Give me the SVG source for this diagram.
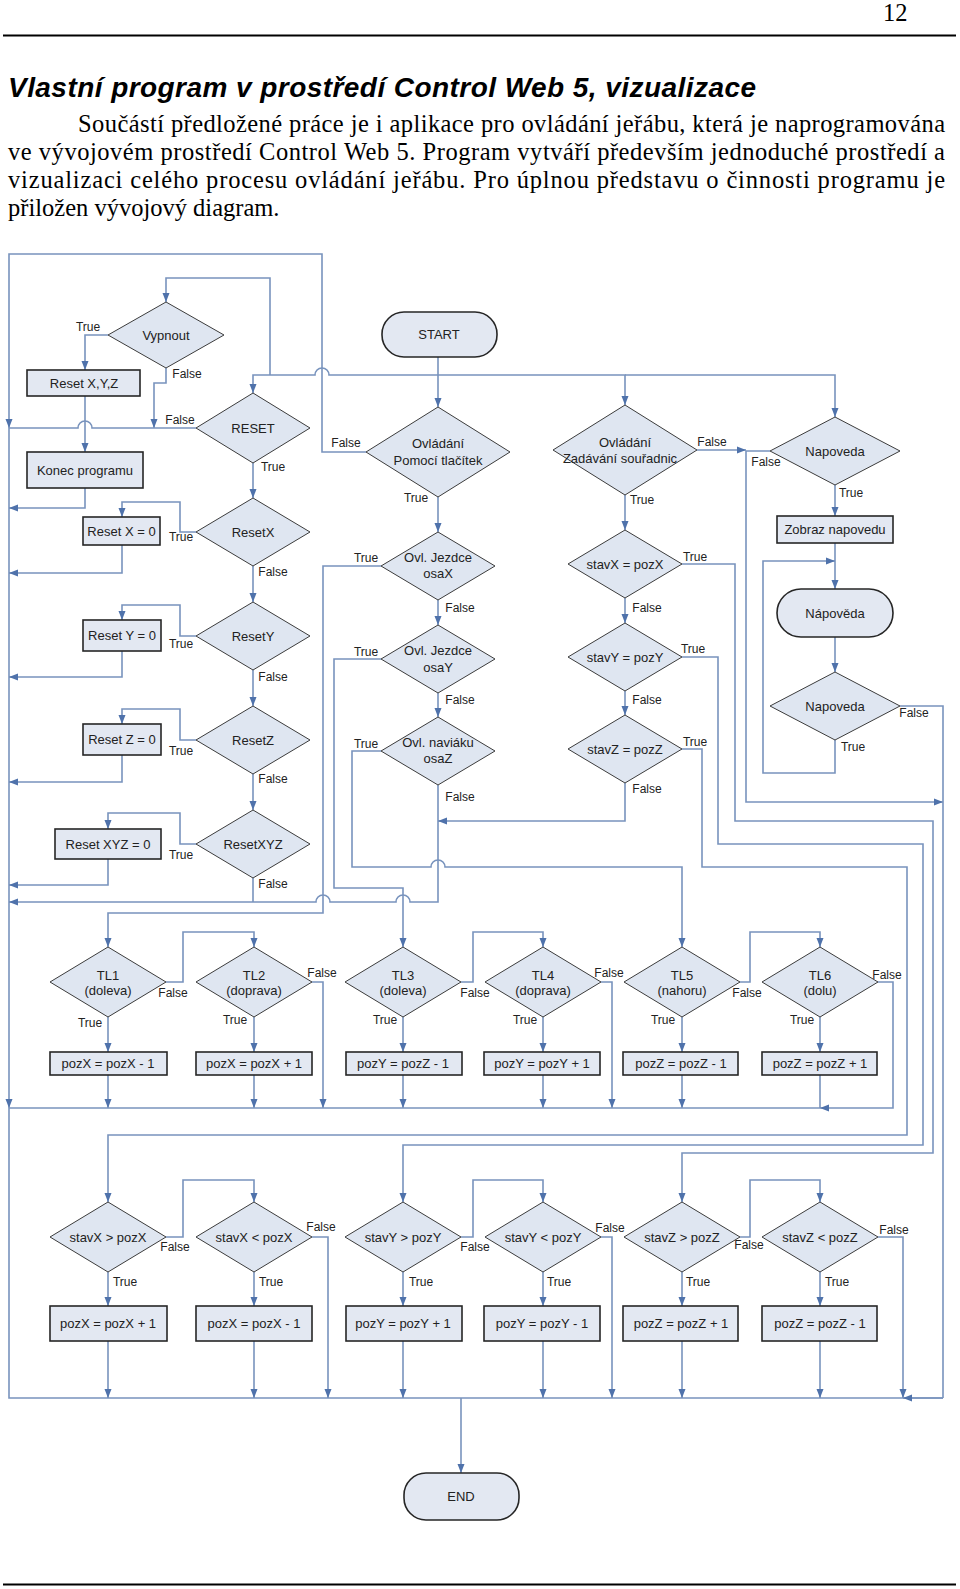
<svg xmlns="http://www.w3.org/2000/svg" width="960" height="1589" viewBox="0 0 960 1589">
<style>
.c{fill:none;stroke:#7893bd;stroke-width:1.6}
.a{marker-end:url(#ah)}
.d{fill:#dfe6f1;stroke:#3c3c3c;stroke-width:1}
.b{fill:#e3e8f2;stroke:#262626;stroke-width:1.6}
.n{font-family:"Liberation Sans",Arial,sans-serif;font-size:13px;fill:#222;text-anchor:middle}
.l{font-family:"Liberation Sans",Arial,sans-serif;font-size:12px;fill:#222;text-anchor:middle}
.s{font-family:"Liberation Serif","Times New Roman",serif;font-size:24.5px;fill:#000}
</style>
<defs>
<marker id="ah" markerWidth="9" markerHeight="8" refX="9" refY="4" orient="auto" markerUnits="userSpaceOnUse"><path d="M0,0.5 L9,4 L0,7.5 z" fill="#4f72ab"/></marker>
</defs>
<rect width="960" height="1589" fill="#fff"/>
<g id="header">
<text class="s" x="883" y="21">12</text>
<line x1="3" y1="35.5" x2="956" y2="35.5" stroke="#000" stroke-width="2"/>
<text x="8" y="97" font-family="'Liberation Sans',Arial,sans-serif" font-size="28" font-weight="bold" font-style="italic" textLength="748">Vlastní program v prostředí Control Web 5, vizualizace</text>
<text class="s" x="78" y="132" textLength="867">Součástí předložené práce je i aplikace pro ovládání jeřábu, která je naprogramována</text>
<text class="s" x="8" y="160" textLength="937">ve vývojovém prostředí Control Web 5. Program vytváří především jednoduché prostředí a</text>
<text class="s" x="8" y="188" textLength="937">vizualizaci celého procesu ovládání jeřábu. Pro úplnou představu o činnosti programu je</text>
<text class="s" x="8" y="216">přiložen vývojový diagram.</text>
<line x1="3" y1="1584.5" x2="956" y2="1584.5" stroke="#000" stroke-width="2"/>
</g>
<g id="connectors">
<path class="c a" d="M438,357 V407"/>
<path class="c a" d="M438,375 H329 A7,7 0 0 0 315,375 H253 V393"/>
<path class="c a" d="M270,375 V278 H166 V302"/>
<path class="c a" d="M438,375 H625 V405"/>
<path class="c a" d="M625,375 H835 V417"/>
<path class="c a" d="M366,452 H322 V254 H9 V428"/>
<path class="c a" d="M9,428 V1108"/>
<path class="c" d="M9,1108 V1398 H943"/>
<path class="c a" d="M461,1398 V1473"/>
<path class="c a" d="M108,335 H85 V370"/>
<path class="c a" d="M85,396 V452"/>
<path class="c a" d="M85,488 V508 H9"/>
<path class="c a" d="M166,368 V383 H154 V428"/>
<path class="c" d="M196,428 H92 A7,7 0 0 0 78,428 H9"/>
<path class="c a" d="M253,463 V498"/>
<path class="c a" d="M196,532 H180 V502 H122 V517"/>
<path class="c a" d="M122,545 V573 H9"/>
<path class="c a" d="M253,566 V602"/>
<path class="c a" d="M196,636 H180 V605 H122 V620"/>
<path class="c a" d="M122,651 V677 H9"/>
<path class="c a" d="M253,670 V706"/>
<path class="c a" d="M196,740 H180 V709 H122 V724"/>
<path class="c a" d="M122,755 V782 H9"/>
<path class="c a" d="M253,774 V810"/>
<path class="c a" d="M196,844 H180 V813 H108 V829"/>
<path class="c a" d="M108,859 V885 H9"/>
<path class="c" d="M253,878 V902"/>
<path class="c a" d="M438,785 V902 H410 A7,7 0 0 0 396,902 H330 A7,7 0 0 0 316,902 H9"/>
<path class="c a" d="M625,783 V821 H438"/>
<path class="c a" d="M438,497 V532"/>
<path class="c a" d="M438,600 V625"/>
<path class="c a" d="M438,693 V717"/>
<path class="c a" d="M381,566 H323 V913 H108 V947"/>
<path class="c a" d="M381,659 H334 V888 H403 V947"/>
<path class="c a" d="M381,751 H352 V867 H431 A7,7 0 0 1 445,867 H682 V947"/>
<path class="c a" d="M625,495 V530"/>
<path class="c a" d="M625,598 V623"/>
<path class="c a" d="M625,691 V715"/>
<path class="c a" d="M682,564 H735 V821 H933 V1153 H682 V1202"/>
<path class="c a" d="M682,657 H718 V844 H923 V1145 H403 V1202"/>
<path class="c a" d="M682,749 H702 V867 H907 V1135 H108 V1202"/>
<path class="c a" d="M697,450 H746"/>
<path class="c a" d="M770,451 H746 V802 H943"/>
<path class="c a" d="M835,485 V516"/>
<path class="c a" d="M835,543 V589"/>
<path class="c a" d="M835,637 V672"/>
<path class="c a" d="M835,740 V773 H763 V561 H835"/>
<path class="c" d="M900,706 H943 V1398"/>
<path class="c a" d="M943,1398 H903"/>
<path class="c a" d="M108,1017 V1052"/><path class="c a" d="M108,1075 V1108"/>
<path class="c a" d="M254,1017 V1052"/><path class="c a" d="M254,1075 V1108"/>
<path class="c a" d="M403,1017 V1052"/><path class="c a" d="M403,1075 V1108"/>
<path class="c a" d="M543,1017 V1052"/><path class="c a" d="M543,1075 V1108"/>
<path class="c a" d="M682,1017 V1052"/><path class="c a" d="M682,1075 V1108"/>
<path class="c a" d="M820,1017 V1052"/><path class="c" d="M820,1075 V1108"/>
<path class="c a" d="M166,982 H183 V932 H254 V947"/>
<path class="c a" d="M312,982 H323 V1108"/>
<path class="c a" d="M461,982 H473 V932 H543 V947"/>
<path class="c a" d="M601,982 H612 V1108"/>
<path class="c a" d="M740,982 H750 V932 H820 V947"/>
<path class="c a" d="M878,982 H893 V1108 H820"/>
<path class="c" d="M820,1108 H9"/>
<path class="c a" d="M108,1272 V1306"/><path class="c a" d="M108,1341 V1398"/>
<path class="c a" d="M254,1272 V1306"/><path class="c a" d="M254,1341 V1398"/>
<path class="c a" d="M403,1272 V1306"/><path class="c a" d="M403,1341 V1398"/>
<path class="c a" d="M543,1272 V1306"/><path class="c a" d="M543,1341 V1398"/>
<path class="c a" d="M682,1272 V1306"/><path class="c a" d="M682,1341 V1398"/>
<path class="c a" d="M820,1272 V1306"/><path class="c a" d="M820,1341 V1398"/>
<path class="c a" d="M166,1237 H183 V1180 H254 V1202"/>
<path class="c a" d="M312,1237 H328 V1398"/>
<path class="c a" d="M461,1237 H473 V1180 H543 V1202"/>
<path class="c a" d="M601,1237 H612 V1398"/>
<path class="c a" d="M740,1237 H750 V1180 H820 V1202"/>
<path class="c a" d="M878,1237 H903 V1398"/>
</g>
<g id="labels">
<text class="l" x="88" y="331">True</text>
<text class="l" x="187" y="378">False</text>
<text class="l" x="180" y="424">False</text>
<text class="l" x="273" y="471">True</text>
<text class="l" x="181" y="541">True</text>
<text class="l" x="273" y="576">False</text>
<text class="l" x="181" y="648">True</text>
<text class="l" x="273" y="681">False</text>
<text class="l" x="181" y="755">True</text>
<text class="l" x="273" y="783">False</text>
<text class="l" x="181" y="859">True</text>
<text class="l" x="273" y="888">False</text>
<text class="l" x="346" y="447">False</text>
<text class="l" x="416" y="502">True</text>
<text class="l" x="366" y="562">True</text>
<text class="l" x="460" y="612">False</text>
<text class="l" x="366" y="656">True</text>
<text class="l" x="460" y="704">False</text>
<text class="l" x="366" y="748">True</text>
<text class="l" x="460" y="801">False</text>
<text class="l" x="712" y="446">False</text>
<text class="l" x="642" y="504">True</text>
<text class="l" x="695" y="561">True</text>
<text class="l" x="647" y="612">False</text>
<text class="l" x="693" y="653">True</text>
<text class="l" x="647" y="704">False</text>
<text class="l" x="695" y="746">True</text>
<text class="l" x="647" y="793">False</text>
<text class="l" x="766" y="466">False</text>
<text class="l" x="851" y="497">True</text>
<text class="l" x="853" y="751">True</text>
<text class="l" x="914" y="717">False</text>
<text class="l" x="173" y="997">False</text>
<text class="l" x="90" y="1027">True</text>
<text class="l" x="322" y="977">False</text>
<text class="l" x="235" y="1024">True</text>
<text class="l" x="475" y="997">False</text>
<text class="l" x="385" y="1024">True</text>
<text class="l" x="609" y="977">False</text>
<text class="l" x="525" y="1024">True</text>
<text class="l" x="747" y="997">False</text>
<text class="l" x="663" y="1024">True</text>
<text class="l" x="887" y="979">False</text>
<text class="l" x="802" y="1024">True</text>
<text class="l" x="175" y="1251">False</text>
<text class="l" x="125" y="1286">True</text>
<text class="l" x="321" y="1231">False</text>
<text class="l" x="271" y="1286">True</text>
<text class="l" x="475" y="1251">False</text>
<text class="l" x="421" y="1286">True</text>
<text class="l" x="610" y="1232">False</text>
<text class="l" x="559" y="1286">True</text>
<text class="l" x="749" y="1249">False</text>
<text class="l" x="698" y="1286">True</text>
<text class="l" x="894" y="1234">False</text>
<text class="l" x="837" y="1286">True</text>
</g>
<g id="start"><rect class="b" x="382" y="312" width="115" height="45" rx="22"/><text class="n" x="439" y="339">START</text></g>
<g id="vypnout"><polygon class="d" points="166,302 224,335 166,368 108,335"/><text class="n" x="166" y="339.5">Vypnout</text></g>
<g id="resetxyz-box"><rect class="b" x="27" y="370" width="113" height="26"/><text class="n" x="84" y="387.5">Reset X,Y,Z</text></g>
<g id="konec"><rect class="b" x="27" y="452" width="116" height="36"/><text class="n" x="85" y="474.5">Konec programu</text></g>
<g id="reset"><polygon class="d" points="253,393 310,428 253,463 196,428"/><text class="n" x="253" y="433" font-size="14">RESET</text></g>
<g id="resetx"><polygon class="d" points="253,498 310,532 253,566 196,532"/><text class="n" x="253" y="536.5">ResetX</text></g>
<g id="resetx0"><rect class="b" x="83" y="517" width="77" height="28"/><text class="n" x="121.5" y="535.5">Reset X = 0</text></g>
<g id="resety"><polygon class="d" points="253,602 310,636 253,670 196,636"/><text class="n" x="253" y="640.5">ResetY</text></g>
<g id="resety0"><rect class="b" x="83" y="620" width="78" height="31"/><text class="n" x="122" y="640">Reset Y = 0</text></g>
<g id="resetz"><polygon class="d" points="253,706 310,740 253,774 196,740"/><text class="n" x="253" y="744.5">ResetZ</text></g>
<g id="resetz0"><rect class="b" x="83" y="724" width="78" height="31"/><text class="n" x="122" y="744">Reset Z = 0</text></g>
<g id="resetxyz"><polygon class="d" points="253,810 310,844 253,878 196,844"/><text class="n" x="253" y="848.5">ResetXYZ</text></g>
<g id="resetxyz0"><rect class="b" x="55" y="829" width="106" height="30"/><text class="n" x="108" y="848.5">Reset XYZ = 0</text></g>
<g id="ovl-tlacitka"><polygon class="d" points="438,407 510,452 438,497 366,452"/><text class="n" x="438" y="447.5">Ovládání</text><text class="n" x="438" y="464.5">Pomocí tlačítek</text></g>
<g id="osax"><polygon class="d" points="438,532 495,566 438,600 381,566"/><text class="n" x="438" y="561.5">Ovl. Jezdce</text><text class="n" x="438" y="577.5">osaX</text></g>
<g id="osay"><polygon class="d" points="438,625 495,659 438,693 381,659"/><text class="n" x="438" y="654.5">Ovl. Jezdce</text><text class="n" x="438" y="671.5">osaY</text></g>
<g id="osaz"><polygon class="d" points="438,717 495,751 438,785 381,751"/><text class="n" x="438" y="746.5">Ovl. naviáku</text><text class="n" x="438" y="762.5">osaZ</text></g>
<g id="ovl-souradnice"><polygon class="d" points="625,405 697,450 625,495 553,450"/><text class="n" x="625" y="446.5">Ovládání</text><text class="n" x="620" y="462.5">Zadávání souřadnic</text></g>
<g id="stavx-eq"><polygon class="d" points="625,530 682,564 625,598 568,564"/><text class="n" x="625" y="568.5">stavX = pozX</text></g>
<g id="stavy-eq"><polygon class="d" points="625,623 682,657 625,691 568,657"/><text class="n" x="625" y="661.5">stavY = pozY</text></g>
<g id="stavz-eq"><polygon class="d" points="625,715 682,749 625,783 568,749"/><text class="n" x="625" y="753.5">stavZ = pozZ</text></g>
<g id="napoveda1"><polygon class="d" points="835,417 900,451 835,485 770,451"/><text class="n" x="835" y="455.5">Napoveda</text></g>
<g id="zobraz"><rect class="b" x="777" y="516" width="116" height="27"/><text class="n" x="835" y="534">Zobraz napovedu</text></g>
<g id="napoveda-term"><rect class="b" x="777" y="589" width="116" height="48" rx="24"/><text class="n" x="835" y="617.5">Nápověda</text></g>
<g id="napoveda2"><polygon class="d" points="835,672 900,706 835,740 770,706"/><text class="n" x="835" y="710.5">Napoveda</text></g>
<g id="tl1"><polygon class="d" points="108,947 166,982 108,1017 50,982"/><text class="n" x="108" y="979.5">TL1</text><text class="n" x="108" y="994.5">(doleva)</text></g>
<g id="tl2"><polygon class="d" points="254,947 312,982 254,1017 196,982"/><text class="n" x="254" y="979.5">TL2</text><text class="n" x="254" y="994.5">(doprava)</text></g>
<g id="tl3"><polygon class="d" points="403,947 461,982 403,1017 345,982"/><text class="n" x="403" y="979.5">TL3</text><text class="n" x="403" y="994.5">(doleva)</text></g>
<g id="tl4"><polygon class="d" points="543,947 601,982 543,1017 485,982"/><text class="n" x="543" y="979.5">TL4</text><text class="n" x="543" y="994.5">(doprava)</text></g>
<g id="tl5"><polygon class="d" points="682,947 740,982 682,1017 624,982"/><text class="n" x="682" y="979.5">TL5</text><text class="n" x="682" y="994.5">(nahoru)</text></g>
<g id="tl6"><polygon class="d" points="820,947 878,982 820,1017 762,982"/><text class="n" x="820" y="979.5">TL6</text><text class="n" x="820" y="994.5">(dolu)</text></g>
<g id="tl1-box"><rect class="b" x="50" y="1052" width="117" height="23"/><text class="n" x="108" y="1068">pozX = pozX - 1</text></g>
<g id="tl2-box"><rect class="b" x="196" y="1052" width="116" height="23"/><text class="n" x="254" y="1068">pozX = pozX + 1</text></g>
<g id="tl3-box"><rect class="b" x="346" y="1052" width="116" height="23"/><text class="n" x="403" y="1068">pozY = pozZ - 1</text></g>
<g id="tl4-box"><rect class="b" x="484" y="1052" width="116" height="23"/><text class="n" x="542" y="1068">pozY = pozY + 1</text></g>
<g id="tl5-box"><rect class="b" x="623" y="1052" width="115" height="23"/><text class="n" x="681" y="1068">pozZ = pozZ - 1</text></g>
<g id="tl6-box"><rect class="b" x="762" y="1052" width="115" height="23"/><text class="n" x="820" y="1068">pozZ = pozZ + 1</text></g>
<g id="sx-gt"><polygon class="d" points="108,1202 166,1237 108,1272 50,1237"/><text class="n" x="108" y="1241.5">stavX &gt; pozX</text></g>
<g id="sx-lt"><polygon class="d" points="254,1202 312,1237 254,1272 196,1237"/><text class="n" x="254" y="1241.5">stavX &lt; pozX</text></g>
<g id="sy-gt"><polygon class="d" points="403,1202 461,1237 403,1272 345,1237"/><text class="n" x="403" y="1241.5">stavY &gt; pozY</text></g>
<g id="sy-lt"><polygon class="d" points="543,1202 601,1237 543,1272 485,1237"/><text class="n" x="543" y="1241.5">stavY &lt; pozY</text></g>
<g id="sz-gt"><polygon class="d" points="682,1202 740,1237 682,1272 624,1237"/><text class="n" x="682" y="1241.5">stavZ &gt; pozZ</text></g>
<g id="sz-lt"><polygon class="d" points="820,1202 878,1237 820,1272 762,1237"/><text class="n" x="820" y="1241.5">stavZ &lt; pozZ</text></g>
<g id="sx-gt-box"><rect class="b" x="50" y="1306" width="117" height="35"/><text class="n" x="108" y="1328">pozX = pozX + 1</text></g>
<g id="sx-lt-box"><rect class="b" x="196" y="1306" width="116" height="35"/><text class="n" x="254" y="1328">pozX = pozX - 1</text></g>
<g id="sy-gt-box"><rect class="b" x="346" y="1306" width="116" height="35"/><text class="n" x="403" y="1328">pozY = pozY + 1</text></g>
<g id="sy-lt-box"><rect class="b" x="484" y="1306" width="116" height="35"/><text class="n" x="542" y="1328">pozY = pozY - 1</text></g>
<g id="sz-gt-box"><rect class="b" x="623" y="1306" width="115" height="35"/><text class="n" x="681" y="1328">pozZ = pozZ + 1</text></g>
<g id="sz-lt-box"><rect class="b" x="762" y="1306" width="115" height="35"/><text class="n" x="820" y="1328">pozZ = pozZ - 1</text></g>
<g id="end"><rect class="b" x="404" y="1473" width="115" height="47" rx="22"/><text class="n" x="461" y="1501">END</text></g>
</svg>
